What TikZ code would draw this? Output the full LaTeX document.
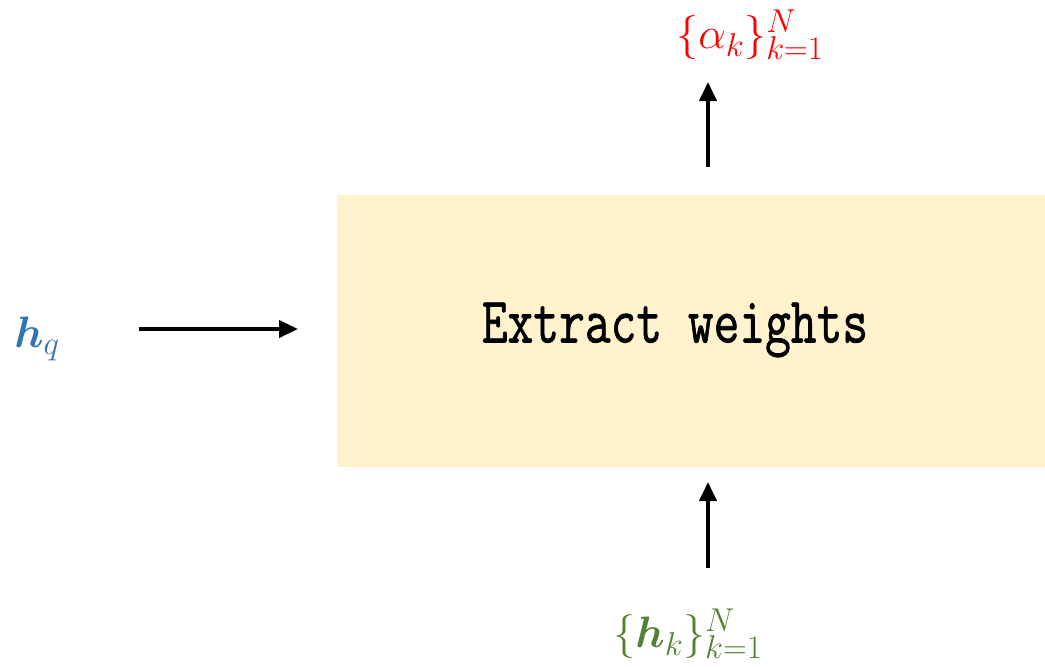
\RequirePackage{fix-cm}
\documentclass[tikz,border=0pt]{standalone}
\usepackage{amsmath,bm}
\usepackage{fontspec}
\newfontfamily\twfont{Latin Modern Mono}[FakeBold=1.2]
\usetikzlibrary{arrows.meta}
\DeclareMathSizes{44}{44}{33}{26}
\definecolor{boxfill}{HTML}{FFF2CC}
\definecolor{hqblue}{HTML}{2E75B6}
\definecolor{alred}{HTML}{FF0000}
\definecolor{hkgreen}{HTML}{548235}
\tikzset{
  arr/.style={line width=4pt, -{Triangle[length=19pt,width=17pt]}},
  mlabel/.style={inner sep=0pt, font=\fontsize{44}{50}\selectfont},
}
\begin{document}
\begin{tikzpicture}[x=1pt,y=-1pt]
\useasboundingbox (0,0) rectangle (1045,667);
\node[fill=boxfill, minimum width=708pt, minimum height=272pt, inner sep=0pt] (box) at (691,331) {};
\node[inner sep=0pt, font=\fontsize{50}{60}\selectfont\twfont] (title) at (675,330)
  {\scalebox{1}[1.3]{Extract weights}};
\node[mlabel, text=hqblue] (hq) at (37,339) {$\bm{h}_q$};
\node[mlabel, text=alred] (al) at (750,35) {$\{\alpha_k\}_{k=1}^N$};
\node[mlabel, text=hkgreen] (hk) at (688,634) {$\{\bm{h}_k\}_{k=1}^N$};
\coordinate (hqs) at (139,329);
\coordinate (hqe) at (298,329);
\coordinate (ts) at (708,167);
\coordinate (te) at (708,82);
\coordinate (bs) at (708,568);
\coordinate (be) at (708,482);
\draw[arr] (hqs) -- (hqe);
\draw[arr] (ts) -- (te);
\draw[arr] (bs) -- (be);
\end{tikzpicture}
\end{document}
